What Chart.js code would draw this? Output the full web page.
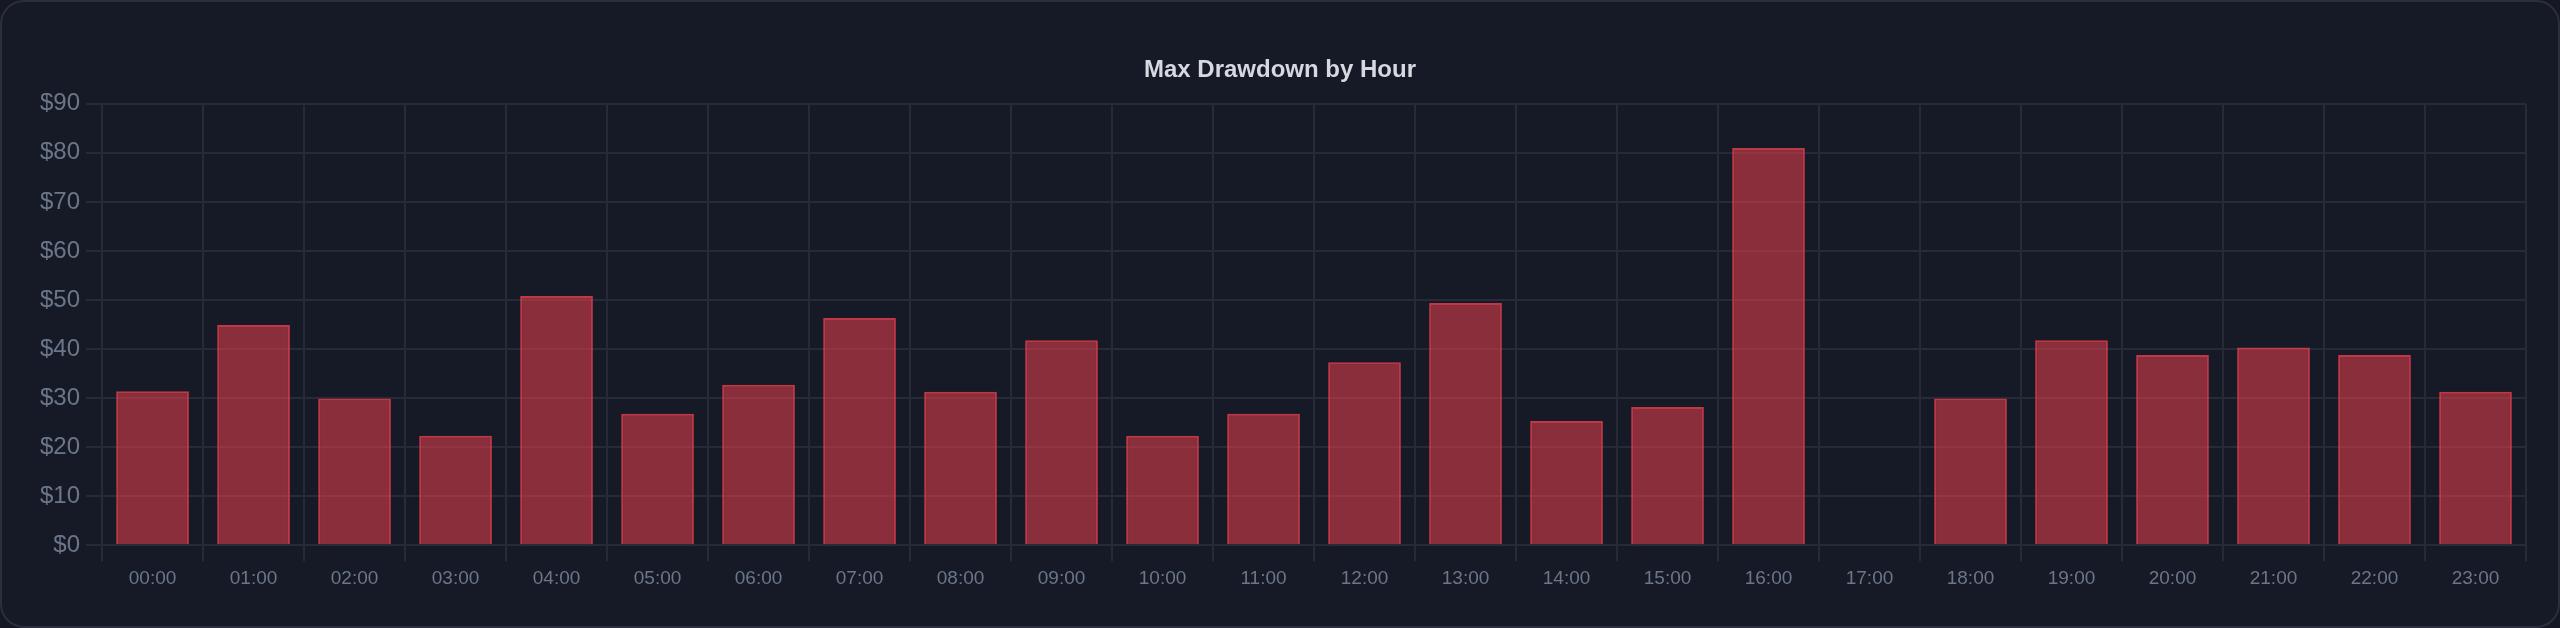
<!DOCTYPE html>
<html>
<head>
<meta charset="utf-8">
<script src="https://cdn.jsdelivr.net/npm/chart.js@4.4.1/dist/chart.umd.min.js"></script>
<style>
  html, body { margin: 0; padding: 0; background: #151824; }
  #card {
    position: absolute; left: 0; top: 0; width: 2560px; height: 628px;
    box-sizing: border-box; border: 2px solid #2a2f3e; border-radius: 24px;
    background: #161a27; overflow: hidden;
  }
  #wrap { position: absolute; left: 0; top: 0; width: 2556px; height: 624px; }
</style>
</head>
<body>
<div id="card"><div id="wrap"><canvas id="c"></canvas></div></div>
<script>
const hours = ["00:00","01:00","02:00","03:00","04:00","05:00","06:00","07:00","08:00","09:00","10:00","11:00",
               "12:00","13:00","14:00","15:00","16:00","17:00","18:00","19:00","20:00","21:00","22:00","23:00"];
const maxDrawdown = [31.4, 44.9, 29.9, 22.3, 50.8, 26.8, 32.7, 46.3, 31.3, 41.8, 22.3, 26.8,
                     37.3, 49.4, 25.3, 28.2, 81.0, 0, 29.9, 41.8, 38.8, 40.3, 38.8, 31.3];
const yMax = 90;
const yStep = 10;
const titleText = "Max Drawdown by Hour";

const FONT = "'Liberation Sans', Arial, Helvetica, sans-serif";
const gridColor = '#262a39';
const tickColor = '#6b7789';

new Chart(document.getElementById('c'), {
  type: 'bar',
  data: {
    labels: hours,
    datasets: [{
      label: 'Max Drawdown',
      data: maxDrawdown,
      backgroundColor: 'rgba(235,64,78,0.55)',
      borderColor: 'rgba(235,64,78,0.8)',
      borderWidth: 2
    }]
  },
  options: {
    responsive: true,
    maintainAspectRatio: false,
    animation: false,
    layout: { padding: { left: 32, right: 32, top: 24, bottom: 30 } },
    plugins: {
      legend: { display: false },
      tooltip: { enabled: false },
      title: {
        display: true,
        text: titleText,
        color: '#d6d9e0',
        font: { family: FONT, size: 24, weight: 'bold' },
        padding: { top: 30, bottom: 19 }
      }
    },
    scales: {
      x: {
        grid: { color: gridColor, lineWidth: 2, tickLength: 16 },
        border: { color: gridColor, width: 2 },
        ticks: { color: tickColor, font: { family: FONT, size: 19 }, padding: 6, maxRotation: 0 }
      },
      y: {
        min: 0, max: yMax,
        grid: { color: gridColor, lineWidth: 2, tickLength: 16 },
        border: { color: gridColor, width: 2 },
        ticks: {
          stepSize: yStep, color: tickColor, font: { family: FONT, size: 24 }, padding: 6,
          callback: v => '$' + v
        }
      }
    }
  }
});
</script>
</body>
</html>
